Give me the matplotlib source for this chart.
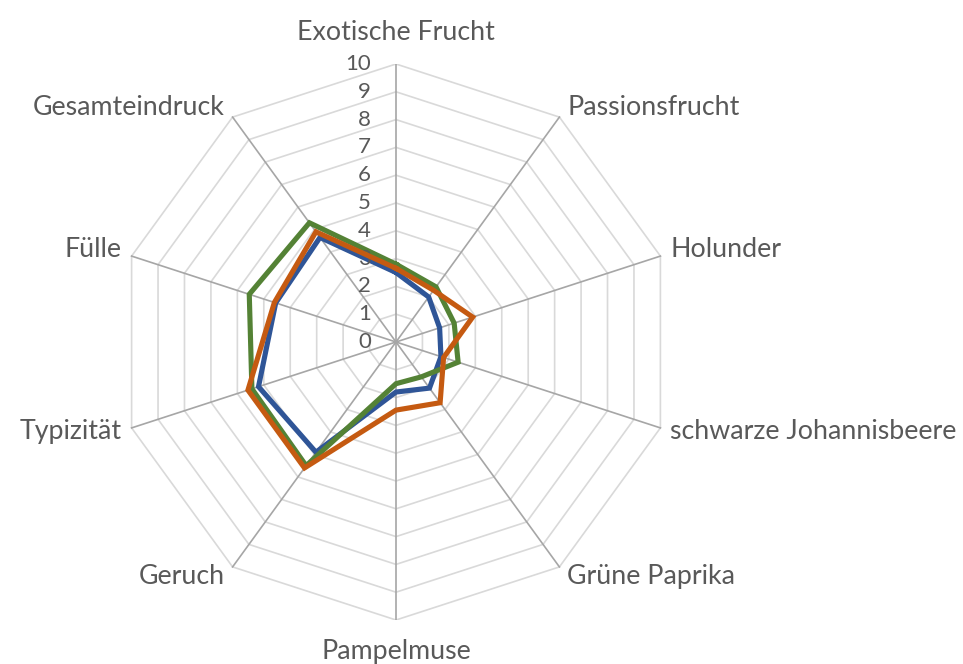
import numpy as np
import matplotlib
matplotlib.use("Agg")
import matplotlib.pyplot as plt

plt.rcParams['font.family'] = ['Lato', 'DejaVu Sans']

# Kategorien im Uhrzeigersinn, beginnend oben
kategorien = ["Exotische Frucht", "Passionsfrucht", "Holunder", "schwarze Johannisbeere",
              "Grüne Paprika", "Pampelmuse", "Geruch", "Typizität", "Fülle", "Gesamteindruck"]

serie_blau = [2.5, 2.0, 1.65, 1.7, 2.05, 1.8, 4.9, 5.2, 4.55, 4.65]
serie_orange = [2.65, 2.3, 2.9, 1.8, 2.7, 2.45, 5.6, 5.6, 4.6, 4.9]
serie_gruen = [2.8, 2.45, 2.2, 2.35, 1.55, 1.5, 5.5, 5.45, 5.55, 5.3]

skala = list(range(0, 11))

farbe_blau = '#2F5597'
farbe_orange = '#C55A11'
farbe_gruen = '#548235'
textfarbe = '#595959'

n = len(kategorien)
winkel = np.arange(n) * 2 * np.pi / n


def zu_xy(werte):
    werte = np.asarray(werte, dtype=float)
    w = np.append(werte, werte[0])
    a = np.append(winkel, winkel[0])
    return w * np.sin(a), w * np.cos(a)


fig = plt.figure(figsize=(9.63, 6.64), dpi=100)
ax = fig.add_axes([118 / 963, (664 - 620) / 664, 556 / 963, 556 / 664])
ax.set_xlim(-10, 10)
ax.set_ylim(-10, 10)
ax.set_aspect('equal')
ax.axis('off')

# Gitternetz (Zehnecke)
for r in skala[1:]:
    x, y = zu_xy([r] * n)
    ax.plot(x, y, color='#D9D9D9', lw=1.2, zorder=1)
for a in winkel:
    ax.plot([0, 10 * np.sin(a)], [0, 10 * np.cos(a)], color='#A6A6A6', lw=1.2, zorder=2)

# Achsenbeschriftung
for r in skala:
    ax.annotate(str(r), xy=(0, r), xytext=(-25, 0), textcoords='offset pixels',
                ha='right', va='center', fontsize=16, color=textfarbe, zorder=5)

# Datenreihen
for werte, farbe, z in [(serie_blau, farbe_blau, 3), (serie_gruen, farbe_gruen, 4),
                        (serie_orange, farbe_orange, 5)]:
    x, y = zu_xy(werte)
    ax.plot(x, y, color=farbe, lw=3.7, zorder=z, solid_joinstyle='miter')

# Kategorienbeschriftung
versatz = [(0, 31, 'center', 'center'), (8, 10, 'left', 'center'), (10, 7, 'left', 'center'),
           (10, -4, 'left', 'center'), (8, -10, 'left', 'center'), (0, -32, 'center', 'center'),
           (-8, -10, 'right', 'center'), (-10, -4, 'right', 'center'), (-10, 7, 'right', 'center'),
           (-8, 10, 'right', 'center')]
for name, a, (dx, dy, ha, va) in zip(kategorien, winkel, versatz):
    ax.annotate(name, xy=(10 * np.sin(a), 10 * np.cos(a)), xytext=(dx, dy),
                textcoords='offset pixels', ha=ha, va=va, fontsize=19.3, color=textfarbe,
                annotation_clip=False)

fig.savefig('out.png', dpi=100)
